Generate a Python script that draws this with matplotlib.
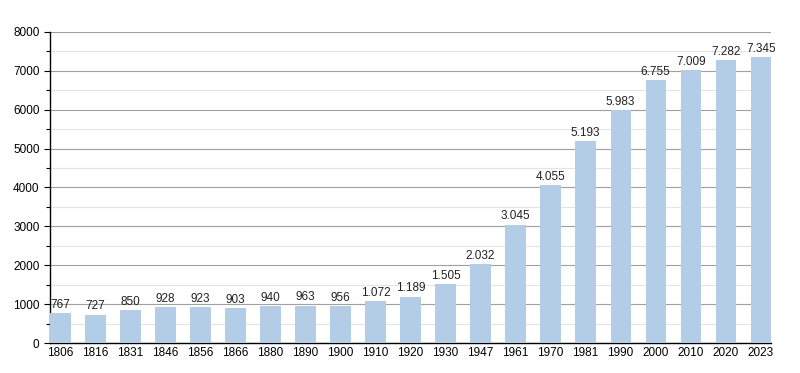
import matplotlib.pyplot as plt
import matplotlib.ticker as mticker
import numpy as np

years = ["1806", "1816", "1831", "1846", "1856", "1866", "1880", "1890", "1900",
         "1910", "1920", "1930", "1947", "1961", "1970", "1981", "1990", "2000",
         "2010", "2020", "2023"]
population = [767, 727, 850, 928, 923, 903, 940, 963, 956, 1072, 1189, 1505,
              2032, 3045, 4055, 5193, 5983, 6755, 7009, 7282, 7345]

plt.rcParams["font.family"] = ["Liberation Sans", "DejaVu Sans"]

fig = plt.figure(figsize=(8, 3.73), dpi=100)
ax = fig.add_axes([0.0625, 0.0804, 0.9015, 0.834])

x = np.arange(len(years))
bars = ax.bar(x, population, width=0.58, color="#b3cde6", zorder=3)

for rect, v in zip(bars, population):
    lab = f"{v:,}".replace(",", ".")
    ax.text(rect.get_x() + rect.get_width() / 2, v + 60, lab,
            ha="center", va="bottom", fontsize=8.5, color="#222222", zorder=4)

ax.set_xlim(-0.3, len(years) - 0.7)
ax.set_ylim(0, 8000)
ax.set_xticks(x)
ax.set_xticklabels(years, fontsize=8.5)
ax.tick_params(axis="x", length=0, pad=3)
ax.yaxis.set_major_locator(mticker.MultipleLocator(1000))
ax.yaxis.set_minor_locator(mticker.MultipleLocator(500))
ax.tick_params(axis="y", which="major", labelsize=8.5, length=4, width=0.8)
ax.tick_params(axis="y", which="minor", length=3, width=0.8)
ax.grid(axis="y", which="major", color="#a0a0a0", linewidth=0.8, zorder=1)
ax.grid(axis="y", which="minor", color="#e4e4e4", linewidth=0.8, zorder=1)

for s in ("top", "right"):
    ax.spines[s].set_visible(False)
ax.spines["left"].set_linewidth(1.0)
ax.spines["bottom"].set_linewidth(1.0)

fig.savefig("out.png", dpi=100)
